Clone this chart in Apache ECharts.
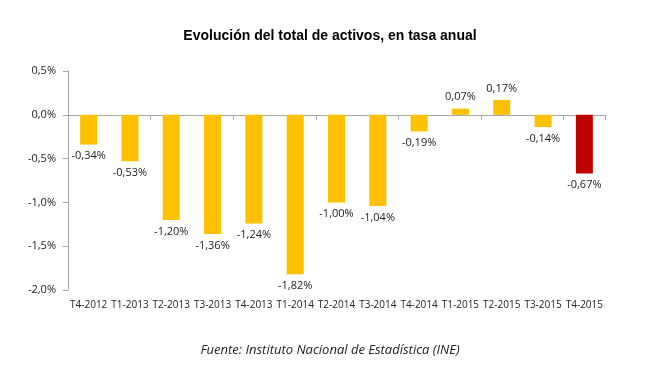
<!DOCTYPE html>
<html><head><meta charset="utf-8">
<script src="https://cdn.jsdelivr.net/npm/echarts@6/dist/echarts.min.js"></script>
<style>html,body{margin:0;padding:0;background:#fff}#c{width:660px;height:378px}</style>
</head><body><div id="c"></div>
<script>
const categories = ['T4-2012','T1-2013','T2-2013','T3-2013','T4-2013','T1-2014','T2-2014','T3-2014','T4-2014','T1-2015','T2-2015','T3-2015','T4-2015'];
const values = [-0.34,-0.53,-1.20,-1.36,-1.24,-1.82,-1.00,-1.04,-0.19,0.07,0.17,-0.14,-0.67];
const highlightIndex = 12;
const yTicks = {min:-2, max:0.5, interval:0.5};

const fmt = (v,d) => v.toFixed(d).replace('.',',') + '%';
const chart = echarts.init(document.getElementById('c'));
const data = values.map((v,i)=>({
  value:v,
  itemStyle:{color: i===highlightIndex ? '#C00000' : '#FFC000'},
  label:{position: v<0 ? 'bottom' : 'top'}
}));
chart.setOption({
  animation:false,
  title:[{text:'Evolución del total de activos, en tasa anual',left:'center',top:24,
    textStyle:{fontFamily:'Liberation Sans',fontSize:14,fontWeight:'bold',color:'#000'}},
    {text:'Fuente: Instituto Nacional de Estadística (INE)',left:'center',top:339,
    textStyle:{fontFamily:'Open Sans',fontSize:13,fontStyle:'italic',fontWeight:'normal',color:'#222'}}],
  grid:{left:68,right:55,top:71,bottom:88},
  xAxis:[{type:'category',data:categories,position:'bottom',
    axisLine:{show:false},axisTick:{show:false},
    axisLabel:{margin:10,fontFamily:'Open Sans',fontSize:10,color:'#222',interval:0}},
    {type:'category',data:categories,position:'bottom',
    axisLine:{onZero:true,onZeroAxisIndex:0,lineStyle:{color:'#a6a6a6'}},
    axisTick:{show:true,length:5,inside:false,lineStyle:{color:'#a6a6a6'}},
    axisLabel:{show:false}}],
  yAxis:{type:'value',min:yTicks.min,max:yTicks.max,interval:yTicks.interval,
    axisLine:{show:true,lineStyle:{color:'#a6a6a6'}},
    axisTick:{show:true,length:5,lineStyle:{color:'#a6a6a6'}},
    splitLine:{show:false},
    axisLabel:{formatter:v=>fmt(v,1),margin:12,fontFamily:'Open Sans',fontSize:11,color:'#222'}},
  series:[{type:'bar',data:data,barWidth:17,xAxisIndex:0,
    label:{show:true,distance:6,formatter:p=>fmt(p.value,2),fontFamily:'Open Sans',fontSize:11,color:'#222'}}]
});
</script></body></html>
